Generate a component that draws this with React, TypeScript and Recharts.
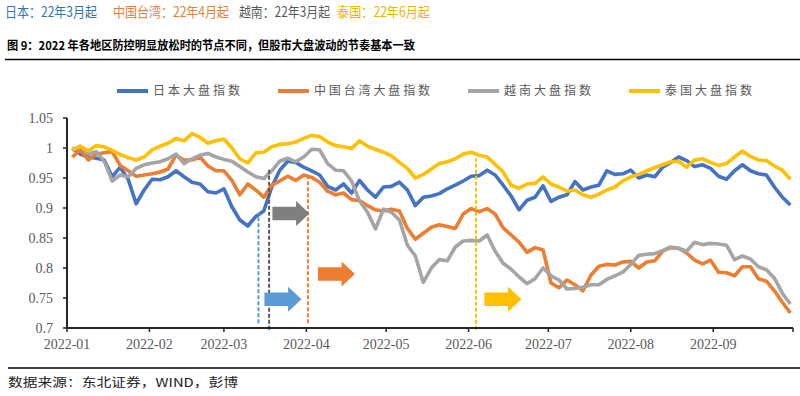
import React from "react";
import { LineChart, Line, XAxis, YAxis, ReferenceLine, ReferenceDot } from "recharts";

// days counted from 2022-01-01
const tradeDays = [
  2, 5, 8, 11, 14, 17, 20, 23, 26, 29, 32, 35, 38, 41, 44, 47, 50, 53, 56, 59,
  62, 65, 68, 71, 74, 77, 80, 83, 86, 89, 92, 95, 98, 101, 104, 107, 110, 113, 116, 119,
  122, 125, 128, 131, 134, 137, 140, 143, 146, 149, 152, 155, 158, 161, 164, 167, 170, 173, 176, 179,
  182, 185, 188, 191, 194, 197, 200, 203, 206, 209, 212, 215, 218, 221, 224, 227, 230, 233, 236, 239,
  242, 245, 248, 251, 254, 257, 260, 263, 266, 269, 272,
];

const japan = [
  1.0, 0.99, 0.985, 0.983, 0.98, 0.952, 0.968, 0.948, 0.907, 0.93,
  0.948, 0.947, 0.952, 0.962, 0.952, 0.943, 0.94, 0.927, 0.925, 0.932,
  0.902, 0.88, 0.87, 0.886, 0.895, 0.935, 0.963, 0.978, 0.976, 0.968,
  0.962, 0.955, 0.936, 0.93, 0.94, 0.925, 0.946, 0.93, 0.918, 0.935,
  0.936, 0.943, 0.93, 0.904, 0.918, 0.92, 0.924, 0.932, 0.938, 0.945,
  0.953, 0.954, 0.963, 0.955, 0.938, 0.92, 0.897, 0.913, 0.918, 0.937,
  0.911, 0.918, 0.922, 0.944, 0.93, 0.935, 0.938, 0.962, 0.956, 0.957,
  0.963, 0.95, 0.955, 0.952, 0.968, 0.976, 0.985, 0.979, 0.969, 0.972,
  0.966, 0.953, 0.948, 0.962, 0.972, 0.962, 0.957, 0.955, 0.935, 0.918, 0.905,
];

const taiwan = [
  0.985, 0.997, 0.98, 0.99, 0.992, 0.994, 0.971, 0.962, 0.953, 0.955,
  0.957, 0.96, 0.965, 0.988, 0.98, 0.98, 0.985, 0.97, 0.962, 0.962,
  0.946, 0.922, 0.94, 0.93, 0.918, 0.938, 0.945, 0.953, 0.946, 0.955,
  0.951, 0.943, 0.928, 0.922, 0.925, 0.914, 0.912, 0.904, 0.897, 0.895,
  0.898, 0.895, 0.866, 0.848, 0.858, 0.868, 0.872, 0.869, 0.866, 0.89,
  0.899, 0.894, 0.899, 0.89, 0.867, 0.855, 0.843, 0.826, 0.834, 0.83,
  0.775, 0.767, 0.78, 0.772, 0.762, 0.788, 0.803, 0.806, 0.805, 0.81,
  0.811, 0.8, 0.81, 0.812, 0.828, 0.834, 0.833, 0.825, 0.813, 0.807,
  0.813, 0.793, 0.792, 0.787, 0.802, 0.802, 0.782, 0.778, 0.762, 0.743, 0.725,
];

const vietnam = [
  0.995, 1.003, 0.99, 0.994, 0.978, 0.945, 0.955, 0.952, 0.966, 0.972,
  0.975, 0.977, 0.982, 0.99, 0.974, 0.982, 0.988, 0.991, 0.985, 0.981,
  0.978, 0.969, 0.96, 0.952, 0.949, 0.962, 0.978, 0.983, 0.977, 0.985,
  0.998, 0.997, 0.974, 0.963, 0.962, 0.945, 0.912, 0.893, 0.865, 0.898,
  0.893, 0.88, 0.838, 0.82, 0.776, 0.8, 0.814, 0.812, 0.835, 0.845,
  0.846, 0.845, 0.855, 0.828, 0.808, 0.798, 0.785, 0.774, 0.782, 0.8,
  0.787, 0.78, 0.765, 0.766, 0.768, 0.772, 0.772, 0.781, 0.787, 0.793,
  0.806, 0.821, 0.823, 0.824, 0.829, 0.835, 0.833, 0.828, 0.843, 0.839,
  0.841, 0.84, 0.838, 0.814, 0.82, 0.815, 0.802, 0.797, 0.783, 0.758, 0.74,
];

const thailand = [
  0.997, 1.003, 0.995, 1.004, 1.002, 0.996, 0.989, 0.984, 0.98, 0.985,
  0.997, 1.003, 1.008, 1.016, 1.012, 1.024, 1.018, 1.008, 1.012, 1.015,
  1.0, 0.982, 0.975, 0.992, 0.993, 1.002, 1.006, 1.007, 1.01, 1.016,
  1.021, 1.019, 1.01, 1.004, 1.002, 0.999, 1.012, 1.003, 0.998, 0.993,
  0.987, 0.976, 0.966, 0.95, 0.956, 0.965, 0.974, 0.977, 0.982, 0.99,
  0.993, 0.988, 0.985, 0.973, 0.96, 0.938, 0.933, 0.94, 0.941, 0.952,
  0.94, 0.935, 0.928, 0.93, 0.922, 0.918, 0.923, 0.93, 0.935, 0.945,
  0.952, 0.956, 0.962, 0.967, 0.972, 0.977, 0.978, 0.968, 0.98, 0.982,
  0.976, 0.971, 0.974, 0.985, 0.995, 0.986, 0.98, 0.979, 0.97, 0.963, 0.948,
];

const seriesKeys = ["japan", "taiwan", "vietnam", "thailand"];
const seriesNames = ["日本大盘指数", "中国台湾大盘指数", "越南大盘指数", "泰国大盘指数"];
const seriesColors = ["#4472c4", "#ed7d31", "#a5a5a5", "#ffc000"];

const monthTicks = [0, 31, 59, 90, 120, 151, 181, 212, 243, 273];
const monthLabels = ["2022-01", "2022-02", "2022-03", "2022-04", "2022-05", "2022-06", "2022-07", "2022-08", "2022-09", ""];
const yTicks = [0.7, 0.75, 0.8, 0.85, 0.9, 0.95, 1, 1.05];

// reopening markers: Japan, Vietnam, Taiwan, Thailand
const markerDays = [72, 76, 90.6, 153.8];
const markerTops = [0.892, 0.965, 0.95, 0.983];
const markerBottoms = [0.708, 0.697, 0.708, 0.697];
const markerColors = ["#5b9bd5", "#595959", "#ed7d31", "#ffc000"];
const arrowDays = [81.2, 84.2, 101.3, 163.9];
const arrowValues = [0.748, 0.891, 0.79, 0.748];
const arrowColors = ["#5b9bd5", "#7f7f7f", "#ed7d31", "#ffc000"];

const headerTexts = ["日本：22年3月起", "中国台湾：22年4月起", "越南：22年3月起", "泰国：22年6月起"];
const headerColors = ["#2e75b6", "#ed7d31", "#595959", "#f0b400"];
const headerX = [5, 113, 239, 337];
const headerW = [92, 116, 91, 93];

const arrowShape = (color: string) => (props: any) => {
  const { cx, cy } = props;
  const w = 37;
  const h = 25;
  const x0 = cx - w / 2;
  const x1 = cx + w / 2;
  const hx = x1 - w * 0.36;
  const bh = h * 0.27;
  const d = `M${x0},${cy - bh} L${hx},${cy - bh} L${hx},${cy - h / 2} L${x1},${cy} L${hx},${cy + h / 2} L${hx},${cy + bh} L${x0},${cy + bh} Z`;
  return <path d={d} fill={color} />;
};

const cjk = '"Noto Sans CJK SC", sans-serif';
const serif = '"Liberation Serif", "Times New Roman", serif';

export default function App() {
  const rows = tradeDays.map((day, i) => ({
    day,
    japan: japan[i],
    taiwan: taiwan[i],
    vietnam: vietnam[i],
    thailand: thailand[i],
  }));

  let lx = 117;
  const legendItems = seriesNames.map((name, i) => {
    const textW = name.length * 14.5;
    const item = { x: lx, name, color: seriesColors[i], textW };
    lx += 31 + 5 + textW + 38;
    return item;
  });

  const tickStyle = { fill: "#595959", fontSize: 14, fontFamily: serif, style: { fontFamily: serif } };

  return (
    <div
      style={{
        position: "absolute",
        left: 0,
        top: 0,
        width: 800,
        height: 396,
        background: "#fff",
        fontFamily: serif,
      }}
    >
      <LineChart width={800} height={396} data={rows} margin={{ top: 118, right: 7, bottom: 38, left: 7 }}>
        <XAxis
          dataKey="day"
          type="number"
          domain={[0, 273]}
          ticks={monthTicks}
          interval={0}
          allowDataOverflow
          tickFormatter={(v: number) => monthLabels[monthTicks.indexOf(v)] ?? ""}
          height={30}
          tickSize={4}
          tickMargin={7}
          axisLine={{ stroke: "#262626", strokeWidth: 2 }}
          tickLine={{ stroke: "#262626", strokeWidth: 1.5 }}
          tick={tickStyle}
        />
        <YAxis
          type="number"
          domain={[0.7, 1.05]}
          ticks={yTicks}
          interval={0}
          allowDataOverflow
          width={60}
          tickSize={4}
          tickMargin={10}
          axisLine={{ stroke: "#262626", strokeWidth: 2 }}
          tickLine={{ stroke: "#262626", strokeWidth: 1.5 }}
          tick={tickStyle}
        />
        {seriesKeys.map((key, i) => (
          <Line
            key={key}
            dataKey={key}
            name={seriesNames[i]}
            type="linear"
            stroke={seriesColors[i]}
            strokeWidth={3.6}
            strokeLinejoin="round"
            dot={false}
            activeDot={false}
            isAnimationActive={false}
          />
        ))}
        {markerDays.map((d, i) => (
          <ReferenceLine
            key={"m" + i}
            ifOverflow="visible"
            segment={[
              { x: d, y: markerBottoms[i] },
              { x: d, y: markerTops[i] },
            ]}
            stroke={markerColors[i]}
            strokeWidth={2}
            strokeDasharray="4 2"
          />
        ))}
        {arrowDays.map((d, i) => (
          <ReferenceDot key={"a" + i} x={d} y={arrowValues[i]} r={1} shape={arrowShape(arrowColors[i])} />
        ))}
      </LineChart>
      <svg width={800} height={396} style={{ position: "absolute", left: 0, top: 0, pointerEvents: "none" }}>
        {headerTexts.map((t, i) => (
          <text
            key={t}
            x={headerX[i]}
            y={16.5}
            fontSize={14}
            fontFamily={cjk}
            fill={headerColors[i]}
            textLength={headerW[i]}
            lengthAdjust="spacingAndGlyphs"
          >
            {t}
          </text>
        ))}
        <text x={7} y={49.5} fontSize={12} fontWeight={700} fontFamily={cjk} fill="#000" textLength={408} lengthAdjust="spacingAndGlyphs">
          图 9：2022 年各地区防控明显放松时的节点不同，但股市大盘波动的节奏基本一致
        </text>
        <line x1={5} x2={800} y1={59.5} y2={59.5} stroke="#000" strokeWidth={1.3} />
        {legendItems.map((it) => (
          <g key={it.name}>
            <line x1={it.x} x2={it.x + 31} y1={91} y2={91} stroke={it.color} strokeWidth={4} />
            <text
              x={it.x + 36}
              y={95}
              fontSize={12}
              fontFamily={cjk}
              fill="#595959"
              textLength={it.textW}
              lengthAdjust="spacing"
            >
              {it.name}
            </text>
          </g>
        ))}
        <line x1={8} x2={800} y1={368} y2={368} stroke="#000" strokeWidth={1.3} />
        <text x={8} y={387} fontSize={12} fontFamily={cjk} fill="#222" textLength={230} lengthAdjust="spacingAndGlyphs">
          数据来源：东北证券，WIND，彭博
        </text>
      </svg>
    </div>
  );
}
